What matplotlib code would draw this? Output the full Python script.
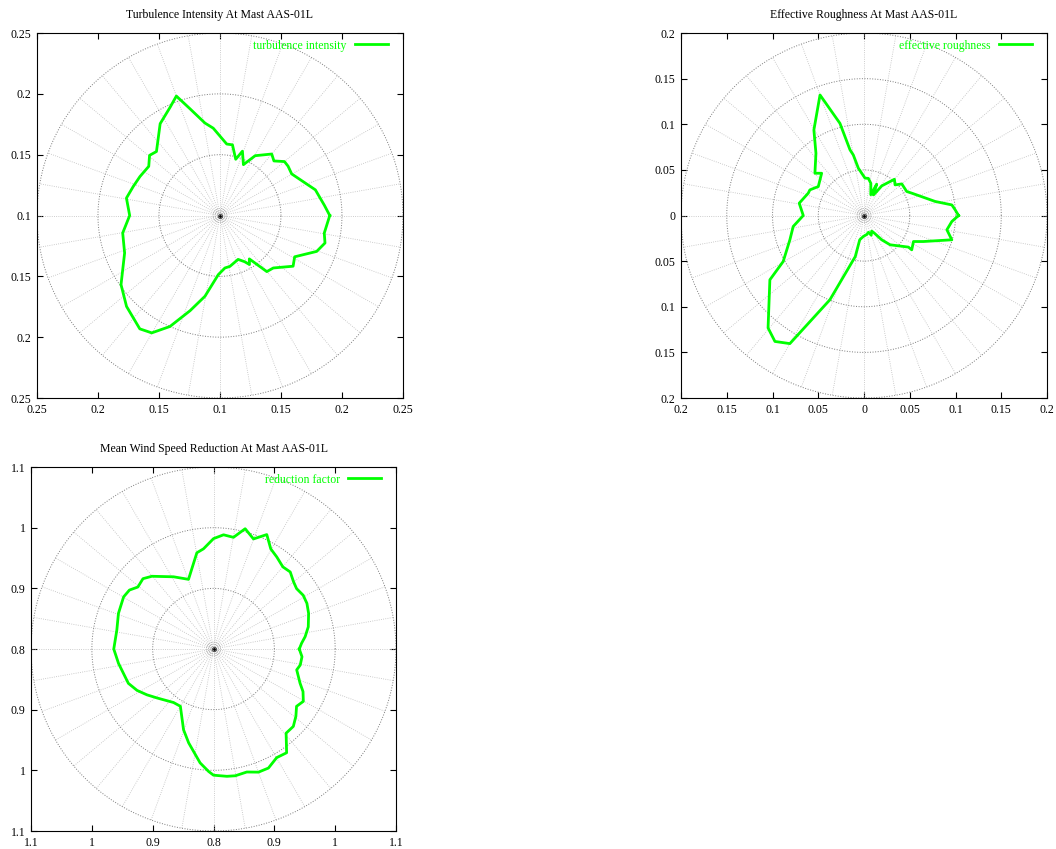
import numpy as np
import matplotlib.pyplot as plt

plt.rcParams['font.family'] = ['Liberation Serif', 'DejaVu Serif']
plt.rcParams['font.size'] = 8.5

# turbulence intensity (direction in degrees, value)
ti_angle = [0, 5.6, 15.1, 30.2, 36, 40, 45.4, 50, 59.6, 65.3, 70.8, 74.4, 80, 84.6,
            94.4, 99.2, 105.6, 110, 114.6, 123, 134.7, 139.4, 145.3, 154, 161.5,
            169.4, 180, 190.2, 201.5, 215, 224.3, 234.8, 239.9, 245.8, 252.6,
            259.5, 268.4, 275.4, 281, 292.4, 298, 301, 304, 309.8, 315.4, 325.2,
            331, 339.6, 345.3, 350.4]
ti_value = [0.190, 0.186, 0.181, 0.168, 0.169, 0.169, 0.163, 0.166, 0.157, 0.146,
            0.156, 0.148, 0.159, 0.159, 0.172, 0.177, 0.191, 0.2045, 0.198, 0.190,
            0.174, 0.176, 0.171, 0.173, 0.175, 0.178, 0.174, 0.181, 0.184, 0.199,
            0.207, 0.214, 0.2115, 0.200, 0.182, 0.1675, 0.1486, 0.1433, 0.1426,
            0.139, 0.143, 0.147, 0.143, 0.160, 0.1614, 0.173, 0.170, 0.1846,
            0.189, 0.1867]

# effective roughness
er_angle = [0, 3.6, 6.9, 11.2, 25.1, 29.4, 40, 44.7, 50.1, 59.2, 62.2, 65.7, 68,
            72, 78, 83.4, 88.5, 96.8, 100, 102, 104.6, 110, 120.3, 127.6, 139.2,
            135, 147.6, 154.6, 158.1, 169.2, 180, 188.8, 198.2, 209.7, 214.4,
            229.6, 234.8, 240, 248, 258, 260, 268, 278, 285, 290, 296, 300, 306,
            311.6, 324.5, 324.2, 332.2, 336.3, 344.5, 350.2, 356.1]
er_value = [0.1033, 0.0998, 0.0967, 0.0793, 0.0577, 0.0536, 0.0539, 0.0477, 0.0518,
            0.0378, 0.0297, 0.0248, 0.037, 0.024, 0.036, 0.041, 0.041, 0.0522,
            0.0674, 0.0735, 0.1044, 0.1406, 0.1086, 0.0861, 0.0709, 0.0655, 0.0592,
            0.0655, 0.0657, 0.0721, 0.0664, 0.0783, 0.0853, 0.1017, 0.1247, 0.1618,
            0.1689, 0.1621, 0.0996, 0.046, 0.027, 0.023, 0.021, 0.019, 0.023, 0.019,
            0.022, 0.0329, 0.0429, 0.0596, 0.0643, 0.0611, 0.0709, 0.0996, 0.0919,
            0.0962]

# mean wind speed reduction factor
rf_angle = [0, 3.7, 7.7, 13.2, 20.6, 26.1, 31, 36.1, 40.1, 45.2, 49.9, 55.6, 60.3,
            65.1, 70.1, 75.3, 79.9, 85, 90, 95.7, 99.8, 109.7, 118.9, 130.2, 135,
            140.6, 144.9, 149.8, 159.4, 168.9, 180, 188.6, 202, 208.5, 214.6, 221,
            233.3, 240, 249.7, 255.2, 263.3, 267.7, 270, 276, 279.7, 285.1, 290,
            294.7, 300.1, 305.1, 310.7, 315.8, 320.7, 325.3, 329.7, 334.5, 338.4,
            345.9, 349.5, 355]
rf_value = [0.941, 0.945, 0.952, 0.960, 0.967, 0.971, 0.972, 0.969, 0.972, 0.979,
            0.977, 0.984, 0.990, 1.008, 0.993, 1.005, 0.987, 0.989, 0.982, 0.966,
            0.961, 0.922, 0.936, 0.957, 0.964, 0.961, 0.969, 0.971, 0.967, 0.962,
            0.964, 0.958, 0.951, 0.943, 0.933, 0.923, 0.910, 0.909, 0.942, 0.960,
            0.989, 1.002, 1.008, 1.011, 1.012, 1.010, 1.016, 1.016, 1.007, 1.009,
            0.983, 0.983, 0.975, 0.966, 0.971, 0.963, 0.953, 0.941, 0.945, 0.946]


def polar_panel(ax, title, label, angle, value, r0, step, nrings):
    rmax = step * nrings
    unit_px = 183.0 / rmax  # approx pixels per data unit
    for a in range(0, 360, 10):
        t = np.radians(a)
        ax.plot([0, rmax * np.cos(t)], [0, rmax * np.sin(t)], ls=':',
                color='#bcbcbc', lw=0.6)
    t = np.linspace(0, 2 * np.pi, 361)
    for k in range(1, nrings + 1):
        ax.plot(k * step * np.cos(t), k * step * np.sin(t), ls=':',
                color='#7a7a7a', lw=0.7)
    # little rings at the pole
    for p in [3, 5, 7]:
        rr = p / unit_px
        ax.plot(rr * np.cos(t), rr * np.sin(t), ls=':', color='#909090', lw=0.5)
    ax.plot(0, 0, 'o', ms=3, mfc='none', mec='#404040', mew=0.6)
    ax.plot(0, 0, 'o', ms=1, color='black')

    th = np.radians(np.r_[angle, angle[0]])
    r = np.r_[value, value[0]] - r0
    ax.plot(r * np.cos(th), r * np.sin(th), color='#00ff00', lw=2, label=label)

    ticks = np.arange(-nrings, nrings + 1) * step
    labels = ['%g' % round(r0 + abs(v), 4) for v in ticks]
    ax.set_xticks(ticks)
    ax.set_xticklabels(labels)
    ax.set_yticks(ticks)
    ax.set_yticklabels(labels)
    ax.set_xlim(-rmax, rmax)
    ax.set_ylim(-rmax, rmax)
    ax.tick_params(direction='in', top=True, right=True, length=4, pad=4)
    ax.legend(loc='upper right', bbox_to_anchor=(0.959, 0.982), borderaxespad=0,
              borderpad=0, frameon=False, markerfirst=False,
              labelcolor='#00ff00', handlelength=2.8, handletextpad=0.7)
    ax.text(0.5, 1.049, title, transform=ax.transAxes, ha='center', va='center')


fig = plt.figure(figsize=(10.56, 8.49), dpi=100)
ax1 = fig.add_axes([0.0350, 0.5312, 0.3466, 0.4299])
ax2 = fig.add_axes([0.6449, 0.5312, 0.3466, 0.4299])
ax3 = fig.add_axes([0.0294, 0.0212, 0.3456, 0.4287])

polar_panel(ax1, 'Turbulence Intensity At Mast AAS-01L', 'turbulence intensity',
            ti_angle, ti_value, 0.1, 0.05, 3)
polar_panel(ax2, 'Effective Roughness At Mast AAS-01L', 'effective roughness',
            er_angle, er_value, 0.0, 0.05, 4)
polar_panel(ax3, 'Mean Wind Speed Reduction At Mast AAS-01L', 'reduction factor',
            rf_angle, rf_value, 0.8, 0.1, 3)

fig.savefig('out.png', dpi=100)
